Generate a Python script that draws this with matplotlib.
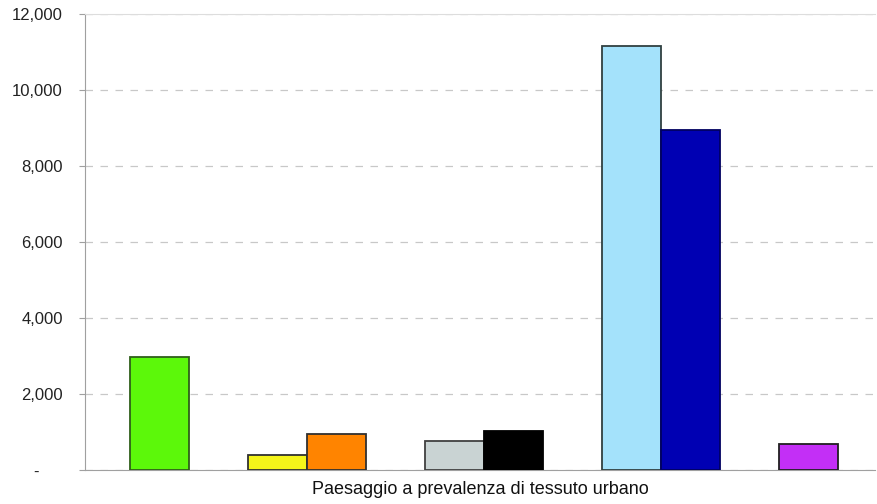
import numpy as np
import matplotlib.pyplot as plt
from matplotlib.ticker import FuncFormatter

# data
series_values = [2960, 395, 945, 760, 1025, 11150, 8950, 690]
series_colors = ["#5cf80a", "#f5f51a", "#ff8400", "#c9d3d3", "#000000", "#a4e2fb", "#0000b3", "#c32ff6"]
edge_colors = ["#2f5f1a", "#303030", "#303030", "#404040", "#000000", "#304040", "#000060", "#202020"]
x_label = "Paesaggio a prevalenza di tessuto urbano"
y_ticks = [0, 2000, 4000, 6000, 8000, 10000, 12000]

# slots in the Excel-style cluster, some series are empty
slots = [0, 2, 3, 5, 6, 8, 9, 11]

fig = plt.figure(figsize=(8.77, 5.04), dpi=100)
ax = fig.add_axes([0.097, 0.0675, 0.901, 0.905])

ax.bar(slots, series_values, width=1.0, align='edge', color=series_colors,
       edgecolor=edge_colors, linewidth=1.3, zorder=3)

ax.set_ylim(0, 12000)
ax.set_xlim(-0.76, 12.63)
ax.set_yticks(y_ticks)
ax.yaxis.set_major_formatter(FuncFormatter(lambda v, p: "-     " if v == 0 else f"{int(v):,}"))
ax.set_xticks([])
ax.yaxis.grid(True, linestyle=(0, (6, 6)), color="#c8c8c8", linewidth=0.9, zorder=0)

for s in ["left", "bottom"]:
    ax.spines[s].set_color("#a0a0a0")
ax.spines["top"].set_color("#dddddd")
ax.spines["right"].set_visible(False)

ax.tick_params(axis='y', length=4, color="#a0a0a0", labelsize=12, labelcolor="#222222", pad=12)
for lbl in ax.get_yticklabels():
    lbl.set_fontfamily("Liberation Sans")

ax.set_xlabel(x_label, fontsize=13, family="Liberation Sans", color="#111111", labelpad=8)

fig.savefig("out.png", dpi=100)
